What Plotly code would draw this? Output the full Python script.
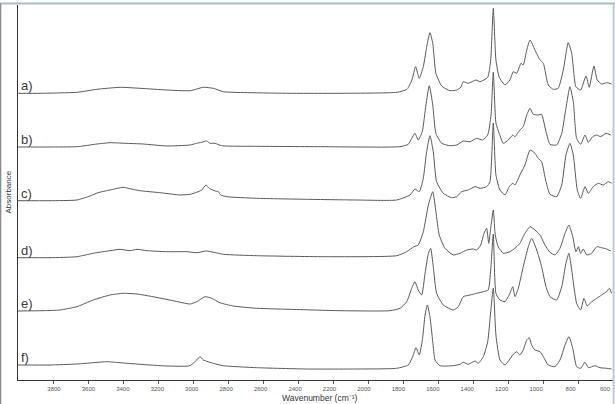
import plotly.graph_objects as go

labels = ["a)", "b)", "c)", "d)", "e)", "f)"]
offsets = [2.867, 2.33, 1.793, 1.223, 0.69, 0.15]
x_ticks = [3800, 3600, 3400, 3200, 3000, 2800, 2600, 2400, 2200, 2000, 1800, 1600, 1400, 1200, 1000, 800, 600]

wn_a = [3998, 3874, 3663, 3549, 3417, 3303, 3149, 3017, 2941, 2884, 2827, 2674, 2446, 2160, 1834, 1777,
        1749, 1728, 1707, 1684, 1661, 1646, 1630, 1612, 1579, 1532, 1493, 1470, 1456, 1427, 1383, 1360,
        1316, 1299, 1284, 1269, 1250, 1217, 1189, 1170, 1150, 1126, 1113, 1093, 1074, 1046, 1017, 998,
        970, 941, 913, 884, 856, 836, 812, 785, 754, 736, 709, 690, 665, 636, 608]
abs_a = [0, 0, 0.01, 0.04, 0.06, 0.05, 0.033, 0.026, 0.06, 0.05, 0.016, 0.006, 0, 0, 0.01, 0.04,
         0.133, 0.266, 0.15, 0.266, 0.50, 0.606, 0.50, 0.20, 0.073, 0.026, 0.033, 0.06, 0.116, 0.10, 0.133, 0.116,
         0.16, 0.333, 0.85, 0.333, 0.16, 0.083, 0.133, 0.216, 0.20, 0.30, 0.283, 0.433, 0.533, 0.433, 0.333, 0.30,
         0.083, 0.04, 0.05, 0.233, 0.506, 0.40, 0.066, 0.033, 0.173, 0.06, 0.273, 0.133, 0.093, 0.106, 0.093]

wn_b = [4000, 3817, 3663, 3549, 3474, 3389, 3286, 3149, 3017, 2979, 2950, 2922, 2903, 2874, 2836, 2636,
        2257, 1817, 1770, 1750, 1732, 1713, 1690, 1669, 1650, 1630, 1612, 1579, 1532, 1493, 1456, 1417,
        1379, 1345, 1316, 1297, 1284, 1269, 1250, 1227, 1198, 1173, 1160, 1132, 1113, 1093, 1074, 1056,
        1027, 1008, 983, 960, 922, 893, 869, 846, 827, 808, 785, 760, 741, 716, 693, 670, 640, 613]
abs_b = [0, 0, 0.003, 0.03, 0.043, 0.037, 0.03, 0.01, 0.02, 0.037, 0.047, 0.06, 0.037, 0.037, 0.013, 0.007,
         0.003, 0.003, 0.027, 0.087, 0.137, 0.07, 0.153, 0.42, 0.613, 0.42, 0.137, 0.037, 0.013, 0.02, 0.06, 0.053,
         0.087, 0.07, 0.12, 0.32, 0.75, 0.24, 0.137, 0.037, 0.07, 0.12, 0.103, 0.17, 0.203, 0.32, 0.387, 0.327,
         0.32, 0.327, 0.153, 0.027, 0.02, 0.137, 0.387, 0.603, 0.453, 0.087, 0.027, 0.12, 0.047, 0.103, 0.12, 0.103, 0.137, 0.12]

wn_c = [4000, 3817, 3663, 3589, 3543, 3474, 3400, 3371, 3303, 3189, 3074, 3017, 2979, 2950, 2926, 2907,
        2874, 2855, 2842, 2807, 2636, 2350, 2065, 1836, 1760, 1732, 1707, 1684, 1665, 1646, 1627, 1608,
        1570, 1522, 1493, 1465, 1427, 1389, 1360, 1322, 1303, 1284, 1269, 1246, 1217, 1193, 1173, 1160,
        1132, 1103, 1074, 1046, 1027, 1008, 983, 960, 922, 893, 869, 846, 827, 804, 785, 760, 741, 713,
        684, 656, 627, 608]
abs_c = [0, 0, 0.007, 0.047, 0.08, 0.107, 0.134, 0.124, 0.10, 0.08, 0.057, 0.064, 0.084, 0.107, 0.157, 0.124,
         0.097, 0.09, 0.057, 0.04, 0.024, 0.014, 0.007, 0.007, 0.057, 0.117, 0.09, 0.224, 0.49, 0.65, 0.49, 0.19,
         0.074, 0.03, 0.04, 0.09, 0.107, 0.14, 0.124, 0.14, 0.19, 0.777, 0.257, 0.107, 0.057, 0.14, 0.174, 0.157,
         0.257, 0.357, 0.507, 0.474, 0.424, 0.39, 0.19, 0.064, 0.04, 0.157, 0.457, 0.574, 0.457, 0.107, 0.024, 0.14, 0.074, 0.14,
         0.174, 0.157, 0.19, 0.174]

wn_d = [4000, 3817, 3663, 3571, 3474, 3417, 3360, 3320, 3263, 3149, 3034, 2977, 2922, 2827, 2636, 2255,
        1836, 1779, 1737, 1713, 1684, 1655, 1630, 1612, 1593, 1560, 1513, 1474, 1436, 1398, 1379, 1356,
        1337, 1322, 1310, 1299, 1284, 1273, 1256, 1227, 1189, 1160, 1132, 1103, 1074, 1046, 1017, 989,
        960, 932, 903, 874, 852, 830, 812, 798, 785, 770, 750, 722, 693, 665, 636, 613]
abs_d = [0, 0, 0.01, 0.044, 0.07, 0.084, 0.07, 0.084, 0.07, 0.06, 0.06, 0.05, 0.067, 0.034, 0.02, 0.01,
         0.02, 0.06, 0.11, 0.127, 0.26, 0.527, 0.66, 0.46, 0.227, 0.094, 0.027, 0.044, 0.077, 0.087, 0.077, 0.127,
         0.244, 0.294, 0.144, 0.294, 0.477, 0.227, 0.11, 0.044, 0.06, 0.094, 0.144, 0.244, 0.31, 0.277, 0.227, 0.127,
         0.054, 0.027, 0.094, 0.244, 0.327, 0.21, 0.06, 0.11, 0.044, 0.087, 0.027, 0.044, 0.11, 0.10, 0.087, 0.067]

wn_e = [4000, 3857, 3760, 3663, 3571, 3474, 3400, 3320, 3229, 3114, 3017, 2979, 2931, 2893, 2846, 2770,
        2636, 2446, 2160, 1874, 1817, 1779, 1750, 1732, 1713, 1693, 1674, 1655, 1642, 1627, 1608, 1570,
        1513, 1484, 1456, 1417, 1379, 1341, 1313, 1299, 1284, 1269, 1246, 1217, 1189, 1173, 1160, 1141,
        1113, 1084, 1065, 1036, 1008, 983, 960, 922, 893, 869, 852, 836, 808, 785, 766, 747, 722, 693,
        665, 636, 621, 608]
abs_e = [0, 0.003, 0.01, 0.043, 0.11, 0.16, 0.177, 0.17, 0.143, 0.103, 0.07, 0.093, 0.143, 0.127, 0.083, 0.05,
         0.027, 0.017, 0.003, 0.003, 0.027, 0.093, 0.227, 0.293, 0.21, 0.16, 0.377, 0.577, 0.627, 0.443, 0.177, 0.06,
         0.01, 0.043, 0.143, 0.16, 0.177, 0.193, 0.21, 0.41, 0.77, 0.177, 0.11, 0.093, 0.177, 0.243, 0.143, 0.227,
         0.443, 0.643, 0.727, 0.61, 0.443, 0.243, 0.143, 0.11, 0.243, 0.477, 0.577, 0.41, 0.077, 0.01, 0.127, 0.05, 0.093, 0.127,
         0.16, 0.193, 0.227, 0.177]

wn_f = [4000, 3817, 3663, 3571, 3491, 3417, 3303, 3149, 3017, 2979, 2960, 2941, 2884, 2827, 2636, 2350,
        2065, 1836, 1770, 1745, 1726, 1707, 1688, 1674, 1661, 1646, 1630, 1617, 1589, 1513, 1474, 1456,
        1427, 1389, 1370, 1341, 1316, 1299, 1284, 1269, 1246, 1217, 1193, 1173, 1150, 1132, 1113, 1093,
        1078, 1065, 1046, 1017, 998, 970, 932, 903, 874, 852, 830, 808, 785, 760, 741, 703, 674, 636, 608]
abs_f = [0, 0, 0.01, 0.023, 0.033, 0.023, 0.007, -0.01, -0.007, 0.05, 0.083, 0.05, 0.017, -0.007, -0.027, -0.04,
         -0.04, -0.033, 0, 0.083, 0.173, 0.10, 0.267, 0.50, 0.60, 0.483, 0.233, 0.05, -0.007, -0.007, 0.007, 0.027,
         0.007, 0.04, 0.017, 0.083, 0.233, 0.533, 0.77, 0.30, 0.05, 0, 0.05, 0.10, 0.133, 0.10, 0.15, 0.25,
         0.273, 0.20, 0.15, 0.133, 0.083, 0, -0.017, 0.05, 0.20, 0.283, 0.167, -0.017, -0.033, 0.027, -0.027, -0.007, -0.027, -0.033, -0.04]

spectra = [(wn_a, abs_a), (wn_b, abs_b), (wn_c, abs_c), (wn_d, abs_d), (wn_e, abs_e), (wn_f, abs_f)]

FONT = "Liberation Sans, Arial, sans-serif"
fig = go.Figure()
for (wn, ab), off, lab in zip(spectra, offsets, labels):
    fig.add_trace(go.Scatter(x=wn, y=[v + off for v in ab], mode="lines",
                             line=dict(color="#5a5a5a", width=1, shape="spline", smoothing=0.5),
                             name=lab, showlegend=False, hoverinfo="skip"))
# invisible trace carrying the separate tick-label axis (labels drawn slightly compressed, as in the source)
fig.add_trace(go.Scatter(x=[x_ticks[0], x_ticks[-1]], y=[0, 0], xaxis="x2", mode="markers",
                         marker=dict(opacity=0), showlegend=False, hoverinfo="skip"))

annotations = []
for off, lab in zip(offsets, labels):
    annotations.append(dict(x=4000, y=off, xref="x", yref="y", text=lab, showarrow=False,
                            xanchor="left", yanchor="bottom", xshift=1, yshift=-2,
                            font=dict(family=FONT, size=13, color="#3a3a3a")))
annotations.append(dict(x=0.5, y=0, xref="paper", yref="paper", text="Wavenumber (cm⁻¹)",
                        showarrow=False, xanchor="center", yanchor="middle", yshift=-18, xshift=4,
                        font=dict(family=FONT, size=8.5, color="#333333")))
annotations.append(dict(x=0, y=0.5, xref="paper", yref="paper", text="Absorbance",
                        showarrow=False, xanchor="center", yanchor="middle", xshift=-10,
                        textangle=-90, font=dict(family=FONT, size=8, color="#333333")))

shapes = [
    dict(type="line", xref="paper", yref="paper", x0=-0.04, x1=1.02, y0=1.0040, y1=1.0040,
         line=dict(color="#a9b8ca", width=2)),
    dict(type="line", xref="paper", yref="paper", x0=-0.0293, x1=-0.0293, y0=-0.1, y1=1.004,
         line=dict(color="#8c8c8c", width=1.5)),
    dict(type="line", xref="paper", yref="paper", x0=1.001, x1=1.001, y0=-0.1, y1=1.004,
         line=dict(color="#b9c9dc", width=2)),
]

fig.update_layout(
    width=615, height=404,
    margin=dict(l=18, r=2, t=5, b=24),
    paper_bgcolor="white", plot_bgcolor="white",
    font=dict(family=FONT, color="#444444"),
    annotations=annotations, shapes=shapes,
    xaxis=dict(range=[4000, 600], tickvals=x_ticks, showticklabels=False,
               ticks="outside", ticklen=3, tickcolor="#555555", tickwidth=1,
               showline=True, linecolor="#333333", linewidth=1,
               showgrid=False, zeroline=False, fixedrange=True),
    xaxis2=dict(overlaying="x", side="bottom", anchor="y", range=[4009, 553.5],
                tickvals=x_ticks, ticktext=[str(t) for t in x_ticks], ticks="",
                ticklabelstandoff=4, ticklabeloverflow="allow",
                tickfont=dict(family=FONT, size=6, color="#555555"),
                showline=False, showgrid=False, zeroline=False, fixedrange=True),
    yaxis=dict(range=[0, 3.75], showline=True, linecolor="#333333", linewidth=1,
               showticklabels=False, ticks="", showgrid=False, zeroline=False, fixedrange=True),
)

fig.write_html("out.html")
